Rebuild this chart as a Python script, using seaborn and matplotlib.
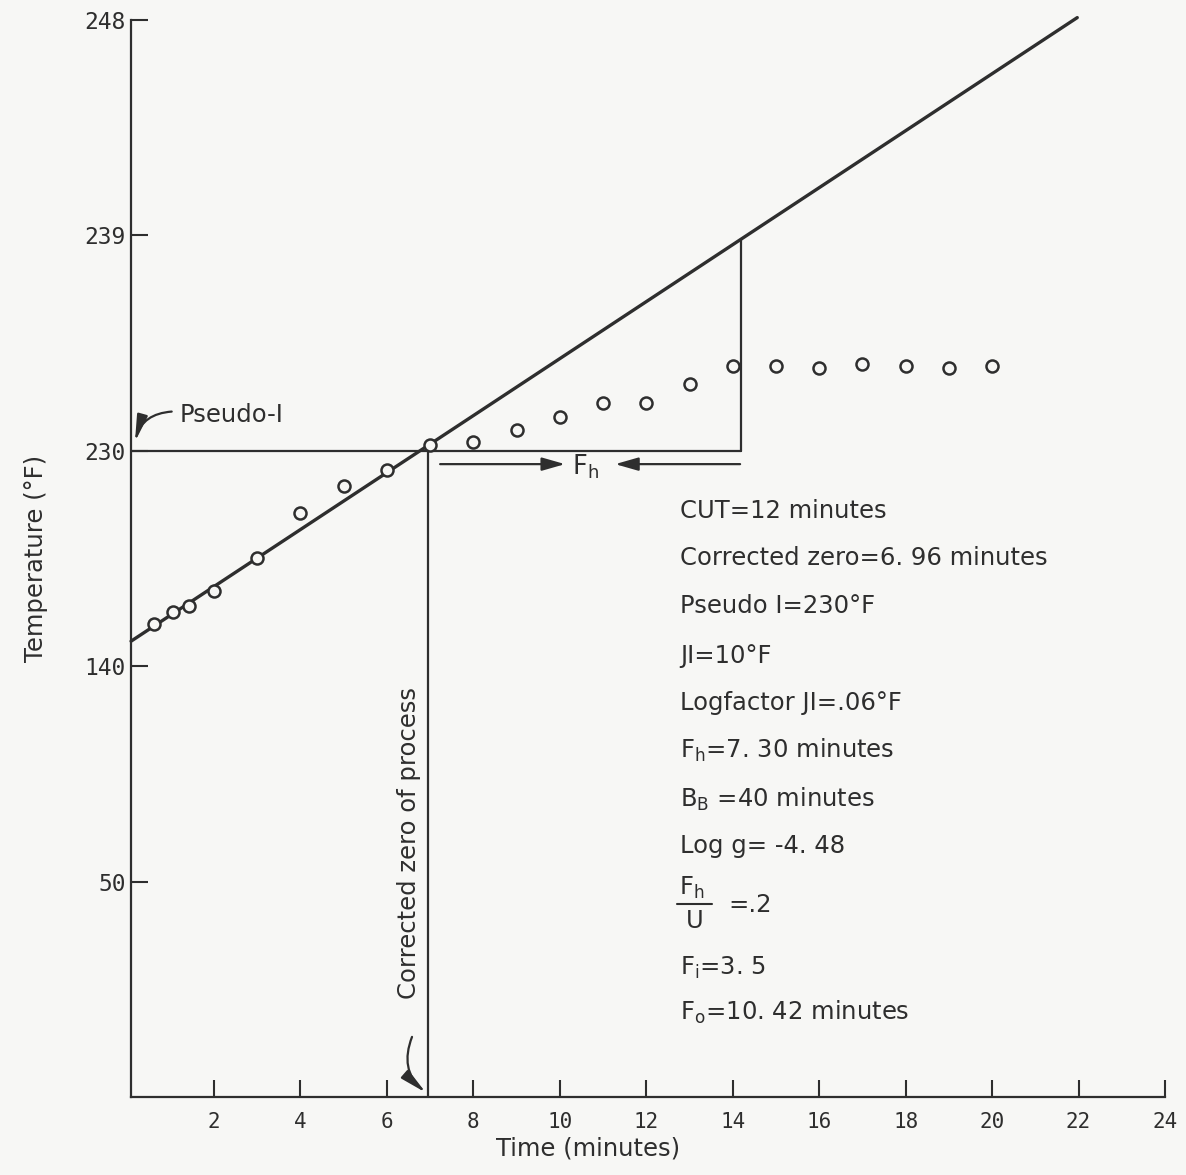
import numpy as np
import pandas as pd
import matplotlib
matplotlib.use("Agg")
import matplotlib.pyplot as plt
import seaborn as sns

# ---------------- data ----------------
# time (minutes) of each heat-penetration reading
time_min = [0.62, 1.05, 1.42, 2, 3, 4, 5, 6, 7, 8, 9, 10, 11, 12, 13, 14,
            15, 16, 17, 18, 19, 20]
# position of each reading on the semi-log paper, in log cycles above the bottom
temp_cycles = [2.195, 2.250, 2.279, 2.351, 2.501, 2.710, 2.837, 2.911, 3.027,
               3.042, 3.097, 3.158, 3.220, 3.220, 3.310, 3.394, 3.394, 3.383,
               3.402, 3.394, 3.386, 3.394]
# fitted straight heating line (end points)
line_time = [0.08, 21.97]
line_cycles = [2.116, 5.011]
# y tick positions (cycles) and their printed labels
ytick_cycles = [1, 2, 3, 4, 5]
ytick_labels = ["50", "140", "230", "239", "248"]
xtick_values = [2, 4, 6, 8, 10, 12, 14, 16, 18, 20, 22, 24]
pseudo_I_cycle = 3.0
corrected_zero = 6.96
fh_end = 14.2

info_lines = [
    "CUT=12 minutes",
    "Corrected zero=6. 96 minutes",
    "Pseudo I=230°F",
    "JI=10°F",
    "Logfactor JI=.06°F",
    r"F$_\mathregular{h}$=7. 30 minutes",
    r"B$_\mathregular{B}$ =40 minutes",
    "Log g= -4. 48",
    r"F$_\mathregular{i}$=3. 5",
    r"F$_\mathregular{o}$=10. 42 minutes",
]
info_cycles = [2.688, 2.470, 2.247, 2.015, 1.797, 1.574, 1.346, 1.133, 0.566, 0.357]

# ---------------- style ----------------
sns.set_theme(style="ticks")
plt.rcParams["font.family"] = ["DejaVu Sans"]
plt.rcParams["mathtext.fontset"] = "dejavusans"
ink = "#2e2e2e"
bg = "#f7f7f5"

fig = plt.figure(figsize=(11.86, 11.75), dpi=100, facecolor=bg)
ax = fig.add_axes([0.1105, 0.0664, 0.8718, 0.9166])
ax.set_facecolor(bg)

df = pd.DataFrame({"time": time_min, "cyc": temp_cycles})
ldf = pd.DataFrame({"time": line_time, "cyc": line_cycles})

sns.lineplot(data=ldf, x="time", y="cyc", ax=ax, color=ink, lw=2.4,
             clip_on=False, zorder=3)

# construction lines
x_line = np.array(line_time)
c_line = np.array(line_cycles)
ax.plot([line_time[0], fh_end], [pseudo_I_cycle, pseudo_I_cycle], color=ink, lw=1.6, zorder=2)
ax.plot([corrected_zero, corrected_zero], [0, pseudo_I_cycle], color=ink, lw=1.6, zorder=2)
ax.plot([fh_end, fh_end], [pseudo_I_cycle, np.interp(fh_end, x_line, c_line)],
        color=ink, lw=1.6, zorder=2)

sns.scatterplot(data=df, x="time", y="cyc", ax=ax, marker="o", s=75,
                facecolor=bg, edgecolor=ink, linewidth=1.8, zorder=4)

ax.set_xlim(0.08, 24)
ax.set_ylim(0, 5)
ax.set_xticks(xtick_values)
ax.set_xticklabels([str(v) for v in xtick_values], family="DejaVu Sans Mono",
                   fontsize=15, color=ink)
ax.set_yticks(ytick_cycles)
ax.set_yticklabels(ytick_labels, family="DejaVu Sans Mono", fontsize=16.5, color=ink)
ax.tick_params(axis="both", direction="in", length=12, width=1.5, color=ink)
ax.tick_params(axis="x", pad=11)
ax.tick_params(axis="y", pad=4)
for s in ["top", "right"]:
    ax.spines[s].set_visible(False)
for s in ["left", "bottom"]:
    ax.spines[s].set_color(ink)
    ax.spines[s].set_linewidth(1.6)

ax.set_xlabel("Time (minutes)", fontsize=17.5, color=ink)
ax.set_ylabel("Temperature (°F)", fontsize=17.5, color=ink)
ax.xaxis.set_label_coords(0.442, -0.037)
ax.yaxis.set_label_coords(-0.08, 0.5)

# annotations
fs = 17.5
ax.text(1.21, 3.134, "Pseudo-I", fontsize=fs, color=ink, va="baseline", ha="left")
curved = dict(arrowstyle="-|>,head_length=0.8,head_width=0.16",
              connectionstyle="arc3,rad=0.35", color=ink, lw=1.6,
              mutation_scale=20, shrinkA=0, shrinkB=0)
ax.annotate("", xy=(0.17, 3.042), xytext=(1.02, 3.182), arrowprops=curved)

ax.text(10.28, 2.888, r"F$_\mathregular{h}$", fontsize=18.5, color=ink, va="baseline", ha="left")
arrow_kw = dict(arrowstyle="-|>,head_length=0.7,head_width=0.2", color=ink, lw=1.6,
                mutation_scale=20, shrinkA=0, shrinkB=0)
ax.annotate("", xy=(10.12, 2.938), xytext=(7.23, 2.938), arrowprops=arrow_kw)
ax.annotate("", xy=(11.28, 2.938), xytext=(14.17, 2.938), arrowprops=arrow_kw)

ax.text(6.51, 1.179, "Corrected zero of process", rotation=90, fontsize=fs,
        color=ink, ha="center", va="center")
ax.annotate("", xy=(6.9, 0.02), xytext=(6.58, 0.279), arrowprops=curved)

for txt, cy in zip(info_lines, info_cycles):
    ax.text(12.78, cy, txt, fontsize=fs, color=ink, ha="left", va="baseline")

# Fh / U fraction
ax.text(12.76, 0.938, r"F$_\mathregular{h}$", fontsize=fs, color=ink, ha="left", va="baseline")
ax.plot([12.72, 13.53], [0.896, 0.896], color=ink, lw=1.5)
ax.text(13.13, 0.785, "U", fontsize=fs, color=ink, ha="center", va="baseline")
ax.text(13.89, 0.891, "=.2", fontsize=fs, color=ink, ha="left", va="center")

fig.savefig("out.png", dpi=100, facecolor=bg)
